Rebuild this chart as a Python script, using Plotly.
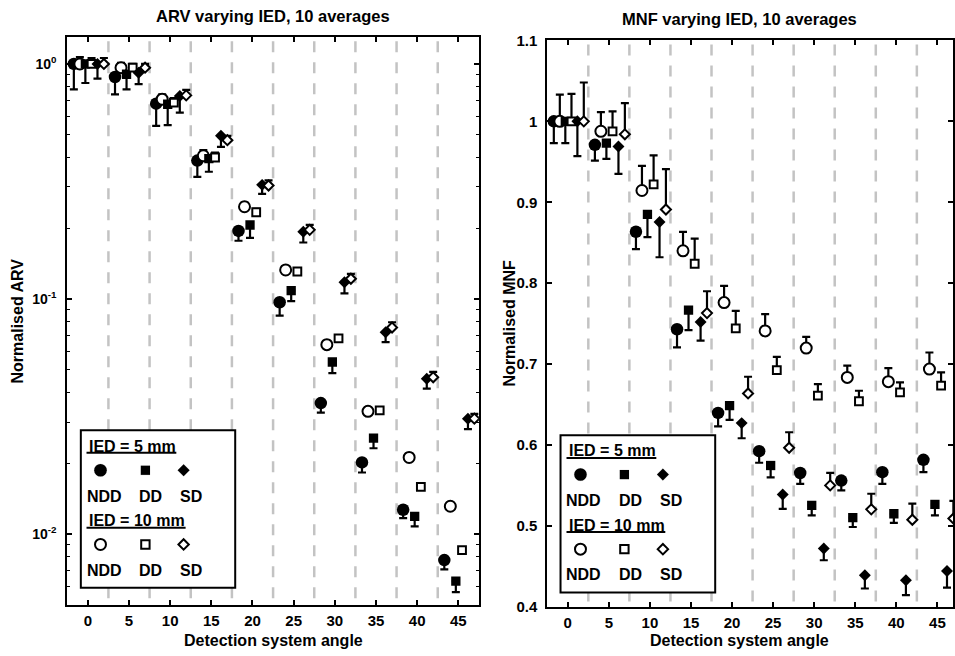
import math
import plotly.graph_objects as go

# ---------------- data ----------------
angles = [0, 5, 10, 15, 20, 25, 30, 35, 40, 45]

# Normalised ARV (left panel)
arv_ndd5 = [1.0, 0.88, 0.678, 0.388, 0.195, 0.0969, 0.0361, 0.0202, 0.0127, 0.00776]
arv_ndd5_low = [0.78, 0.743, 0.545, 0.331, 0.177, 0.0851, 0.0329, 0.0183, 0.0117, 0.00709]
arv_dd5 = [1.0, 0.904, 0.674, 0.396, 0.2066, 0.1087, 0.054, 0.0256, 0.0119, 0.00632]
arv_dd5_low = [0.83, 0.78, 0.549, 0.348, 0.182, 0.098, 0.0484, 0.0232, 0.0108, 0.00567]
arv_sd5 = [1.0, 0.918, 0.731, 0.495, 0.306, 0.1935, 0.118, 0.0723, 0.0458, 0.031]
arv_sd5_low = [0.866, 0.82, 0.621, 0.444, 0.28, 0.174, 0.1057, 0.0656, 0.0416, 0.028]
arv_ndd10 = [1.0, 0.964, 0.708, 0.407, 0.247, 0.133, 0.064, 0.0333, 0.0212, 0.01315]
arv_ndd10_up = [1.07, 1.01, 0.743, 0.43, 0.257, 0.138, 0.0665, 0.0346, 0.022, 0.0136]
arv_dd10 = [1.0, 0.964, 0.685, 0.40, 0.234, 0.131, 0.068, 0.0336, 0.0159, 0.00855]
arv_dd10_up = [1.06, 1.0, 0.715, 0.42, 0.242, 0.135, 0.070, 0.0346, 0.0165, 0.0088]
arv_sd10 = [1.0, 0.964, 0.735, 0.474, 0.304, 0.197, 0.122, 0.0757, 0.0465, 0.031]
arv_sd10_up = [1.06, 1.0, 0.776, 0.494, 0.32, 0.207, 0.128, 0.0797, 0.049, 0.0325]

# Normalised MNF (right panel)
mnf_ndd5 = [1.0, 0.971, 0.8635, 0.743, 0.6396, 0.5923, 0.5653, 0.556, 0.5664, 0.5816]
mnf_ndd5_low = [0.973, 0.9515, 0.842, 0.7205, 0.623, 0.578, 0.552, 0.5438, 0.552, 0.5664]
mnf_dd5 = [1.0, 0.973, 0.885, 0.7666, 0.6486, 0.5746, 0.5253, 0.5101, 0.515, 0.5265]
mnf_dd5_low = [0.973, 0.9535, 0.857, 0.742, 0.631, 0.560, 0.513, 0.4986, 0.5036, 0.513]
mnf_sd5 = [1.0, 0.969, 0.8755, 0.752, 0.627, 0.5388, 0.4719, 0.439, 0.4329, 0.4443]
mnf_sd5_low = [0.957, 0.935, 0.832, 0.729, 0.6083, 0.521, 0.4575, 0.4226, 0.4144, 0.4237]
mnf_ndd10 = [1.0, 0.9877, 0.9145, 0.84, 0.776, 0.741, 0.7197, 0.6835, 0.6782, 0.6938]
mnf_ndd10_up = [1.033, 1.0115, 0.945, 0.8635, 0.7966, 0.7617, 0.7337, 0.698, 0.695, 0.7143]
mnf_dd10 = [1.0, 0.9877, 0.922, 0.824, 0.744, 0.6926, 0.661, 0.654, 0.665, 0.6733]
mnf_dd10_up = [1.034, 1.0123, 0.958, 0.855, 0.7657, 0.709, 0.6753, 0.667, 0.6773, 0.6897]
mnf_sd10 = [1.0, 0.984, 0.891, 0.763, 0.6637, 0.5965, 0.55, 0.5204, 0.5076, 0.509]
mnf_sd10_up = [1.048, 1.0226, 0.941, 0.79, 0.6843, 0.6157, 0.5656, 0.5397, 0.5274, 0.531]

arv_ticks = [0.01, 0.1, 1]
arv_ticktext = ["10<sup>-2</sup>", "10<sup>-1</sup>", "10<sup>0</sup>"]

# ---------------- styles ----------------
W, H = 955, 656
FONT = "Liberation Sans, Arial, sans-serif"
# observed on-screen vertical placement: page content starts ~8px down and spans ~640px
TOP, SPAN = 8.0, 640.0


def px(x):
    return x / W


def py(y):
    return 1 - (y - TOP) / SPAN


offsets = {"NDD5": -1.7, "NDD10": -0.97, "DD5": -0.3, "DD10": 0.45, "SD5": 1.17, "SD10": 1.95}
sym = {"NDD": ("circle", 12.5), "DD": ("square", 9.3), "SD": ("diamond", 9.2)}

fig = go.Figure()


def add_series(vals, bound, key, filled, xa, ya):
    name = key.replace("5", "").replace("10", "")
    s, size = sym[name]
    xs = [a + offsets[key] for a in angles]
    if filled:
        err = dict(type="data", symmetric=False, array=[0] * len(vals),
                   arrayminus=[v - b for v, b in zip(vals, bound)])
        marker = dict(symbol=s, size=size, color="black", line=dict(color="black", width=0))
    else:
        err = dict(type="data", symmetric=False, arrayminus=[0] * len(vals),
                   array=[b - v for v, b in zip(vals, bound)])
        marker = dict(symbol=s, size=size - 1.5, color="white", line=dict(color="black", width=2))
    err.update(color="black", thickness=2.2, width=4)
    fig.add_trace(go.Scatter(x=xs, y=vals, mode="markers", marker=marker, error_y=err,
                             xaxis=xa, yaxis=ya, showlegend=False, cliponaxis=True))


for xa, ya, data in [
    ("x", "y", [(arv_ndd5, arv_ndd5_low, "NDD5", True), (arv_ndd10, arv_ndd10_up, "NDD10", False),
                (arv_dd5, arv_dd5_low, "DD5", True), (arv_dd10, arv_dd10_up, "DD10", False),
                (arv_sd5, arv_sd5_low, "SD5", True), (arv_sd10, arv_sd10_up, "SD10", False)]),
    ("x2", "y2", [(mnf_ndd5, mnf_ndd5_low, "NDD5", True), (mnf_ndd10, mnf_ndd10_up, "NDD10", False),
                  (mnf_dd5, mnf_dd5_low, "DD5", True), (mnf_dd10, mnf_dd10_up, "DD10", False),
                  (mnf_sd5, mnf_sd5_low, "SD5", True), (mnf_sd10, mnf_sd10_up, "SD10", False)]),
]:
    for vals, bound, key, filled in data:
        add_series(vals, bound, key, filled, xa, ya)

tickfont = dict(family=FONT, size=15, color="black", weight="bold")
axis_common = dict(showline=True, linewidth=2, linecolor="black", mirror="ticks", ticks="inside",
                   ticklen=5, tickwidth=1.5, tickcolor="black", showgrid=False, zeroline=False,
                   tickfont=tickfont)

minor_vals = [d * m for m in (0.001, 0.01, 0.1) for d in range(2, 10) if 0.005 <= d * m <= 1.3]

fig.update_layout(
    width=W, height=H, margin=dict(l=0, r=0, t=0, b=0),
    plot_bgcolor="white", paper_bgcolor="white",
    xaxis=dict(domain=[px(67.4), px(479.9)], range=[-2.5, 47.5], tickvals=angles,
               anchor="y", ticklabelstandoff=1, **axis_common),
    yaxis=dict(domain=[py(604.9), py(36.2)], type="log", range=[math.log10(0.005), math.log10(1.3)],
               tickvals=arv_ticks, ticktext=arv_ticktext, anchor="x", ticklabelstandoff=6,
               minor=dict(tickvals=minor_vals, ticks="inside", ticklen=3, tickwidth=1.2, tickcolor="black"),
               **{**axis_common, "tickfont": dict(family=FONT, size=14, color="black", weight="bold")}),
    xaxis2=dict(domain=[px(548.4), 1.0], range=[-2.5, (955 - 569) / 8.23], tickvals=angles,
                anchor="y2", ticklabelstandoff=1, **axis_common),
    yaxis2=dict(domain=[py(606.7), py(39.5)], range=[0.4, 1.1], dtick=0.1, tick0=0.4,
                anchor="x2", ticklabelstandoff=5, **axis_common),
)

shapes = []
# dashed separators between angle groups
for xr, yr in [("x", "y domain"), ("x2", "y2 domain")]:
    for a in angles[:-1]:
        shapes.append(dict(type="line", xref=xr, yref=yr, x0=a + 2.5, x1=a + 2.5, y0=0.993, y1=0,
                           line=dict(color="#c3c3c3", width=2.5, dash="11px,10px"), layer="below"))

# legend boxes
legends = [
    dict(box=(81, 430, 235.7, 587.7), tx=86.7, ty1=446, ty2=520.5, ul1=(176.7, 452.5), ul2=(186, 527.5),
         kx=(100.7, 145.7, 184), ky1=470, ky2=544.3, lx=(104.3, 151, 191.7), ly1=496, ly2=570.7),
    dict(box=(561.7, 435, 716.7, 592.3), tx=567.7, ty1=450, ty2=525.5, ul1=(657.7, 457.7), ul2=(666.7, 531.7),
         kx=(581.7, 625.7, 664.3), ky1=474.3, ky2=549, lx=(585, 632.3, 672.7), ly1=500, ly2=574.3),
]
annotations = []
legfont = dict(family=FONT, size=16, color="black", weight="bold")
for L in legends:
    x0, y0, x1, y1 = L["box"]
    shapes.append(dict(type="rect", xref="paper", yref="paper", x0=px(x0), x1=px(x1), y0=py(y1), y1=py(y0),
                       fillcolor="white", line=dict(color="black", width=2), layer="above"))
    for (ux, uy) in (L["ul1"], L["ul2"]):
        shapes.append(dict(type="line", xref="paper", yref="paper", x0=px(L["tx"]), x1=px(ux),
                           y0=py(uy), y1=py(uy), line=dict(color="black", width=2), layer="above"))
    for row, (ky, fill, lw) in enumerate([(L["ky1"], "black", 0), (L["ky2"], "white", 2)]):
        cx, sx, dx = L["kx"]
        r = 6.3 if row == 0 else 5.5
        shapes.append(dict(type="circle", xref="paper", yref="paper", x0=px(cx - r), x1=px(cx + r),
                           y0=py(ky + r), y1=py(ky - r), fillcolor=fill,
                           line=dict(color="black", width=lw if lw else 0.1), layer="above"))
        h = 4.6 if row == 0 else 4.2
        shapes.append(dict(type="rect", xref="paper", yref="paper", x0=px(sx - h), x1=px(sx + h),
                           y0=py(ky + h), y1=py(ky - h), fillcolor=fill,
                           line=dict(color="black", width=lw if lw else 0.1), layer="above"))
        d = 6.0 if row == 0 else 5.2
        path = "M {} {} L {} {} L {} {} L {} {} Z".format(
            px(dx - d), py(ky), px(dx), py(ky - d), px(dx + d), py(ky), px(dx), py(ky + d))
        shapes.append(dict(type="path", xref="paper", yref="paper", path=path, fillcolor=fill,
                           line=dict(color="black", width=lw if lw else 0.1), layer="above"))
    annotations.append(dict(text="IED = 5 mm", x=px(L["tx"]), y=py(L["ty1"]), xref="paper", yref="paper",
                            xanchor="left", yanchor="middle", showarrow=False, font=legfont))
    annotations.append(dict(text="IED = 10 mm", x=px(L["tx"]), y=py(L["ty2"]), xref="paper", yref="paper",
                            xanchor="left", yanchor="middle", showarrow=False, font=legfont))
    for lab, lx in zip(["NDD", "DD", "SD"], L["lx"]):
        for ly in (L["ly1"], L["ly2"]):
            annotations.append(dict(text=lab, x=px(lx), y=py(ly), xref="paper", yref="paper",
                                    xanchor="center", yanchor="middle", showarrow=False, font=legfont))

titlefont = dict(family=FONT, size=16.5, color="black", weight="bold")
labfont = dict(family=FONT, size=16, color="black", weight="bold")
annotations += [
    dict(text="ARV varying IED, 10 averages", x=px(273.6), y=py(15), xref="paper", yref="paper",
         xanchor="center", yanchor="middle", showarrow=False, font=titlefont),
    dict(text="MNF varying IED, 10 averages", x=px(741), y=py(18), xref="paper", yref="paper",
         xanchor="center", yanchor="middle", showarrow=False, font=titlefont),
    dict(text="Detection system angle", x=px(273.6), y=py(640), xref="paper", yref="paper",
         xanchor="center", yanchor="middle", showarrow=False, font=labfont),
    dict(text="Detection system angle", x=px(741), y=py(640), xref="paper", yref="paper",
         xanchor="center", yanchor="middle", showarrow=False, font=labfont),
    dict(text="Normalised ARV", x=px(18), y=py(320), xref="paper", yref="paper", textangle=-90,
         xanchor="center", yanchor="middle", showarrow=False, font=labfont),
    dict(text="Normalised MNF", x=px(511), y=py(323), xref="paper", yref="paper", textangle=-90,
         xanchor="center", yanchor="middle", showarrow=False, font=labfont),
]

fig.update_layout(shapes=shapes, annotations=annotations)
fig.write_html("out.html")
